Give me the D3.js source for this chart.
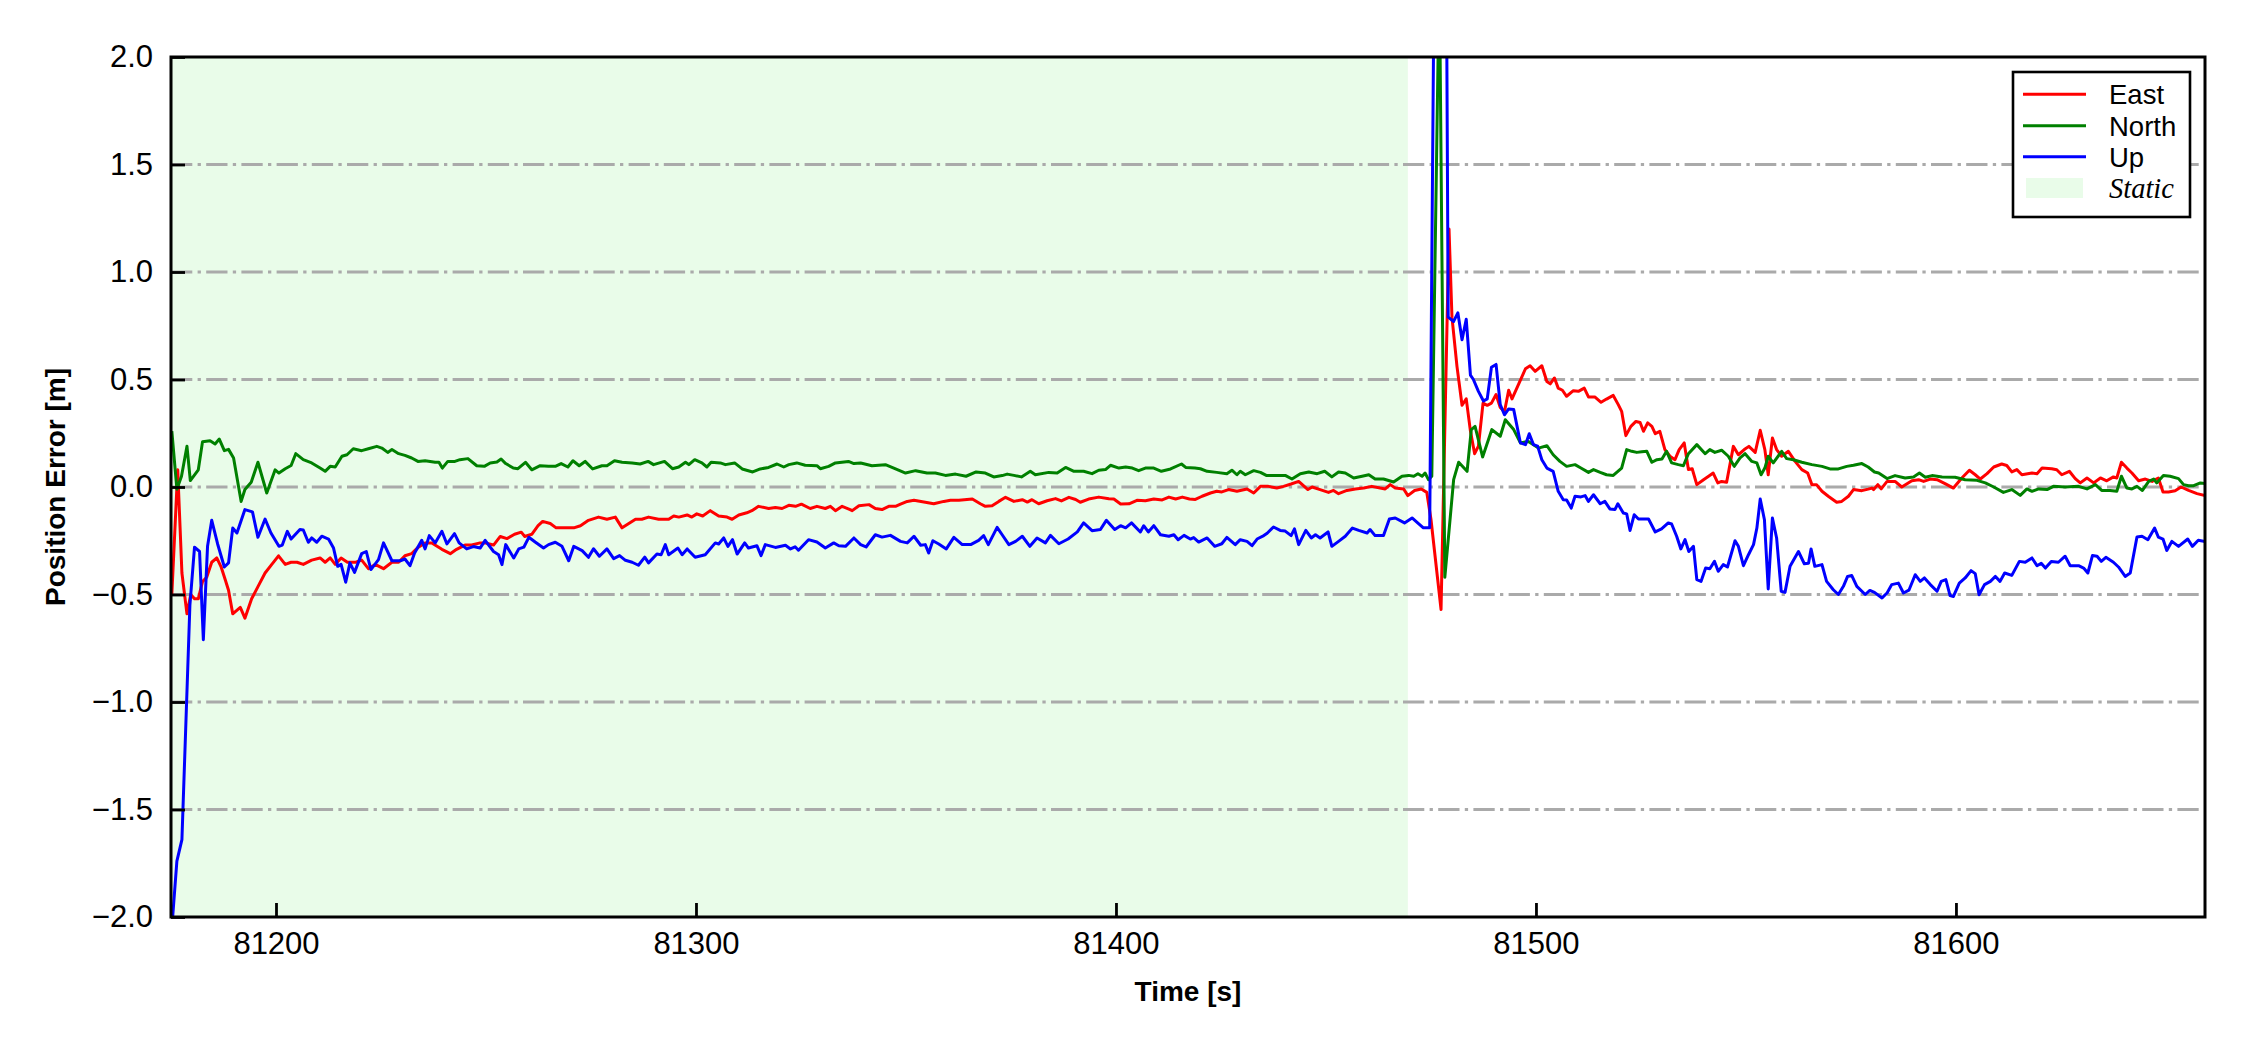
<!DOCTYPE html>
<html><head><meta charset="utf-8">
<script src="https://cdn.jsdelivr.net/npm/d3@7"></script>
<style>html,body{margin:0;padding:0;background:#fff;} svg{display:block;}</style>
</head><body><svg id="chart" width="2250" height="1050"></svg>
<script>
// ---------------- data ----------------
const seriesNames = ["East", "North", "Up"];
const seriesColors = ["#ff0000", "#008000", "#0000ff"];
const xTicks = [81200, 81300, 81400, 81500, 81600];
const yTicks = [-2.0, -1.5, -1.0, -0.5, 0.0, 0.5, 1.0, 1.5, 2.0];
const xDomain = [81175.0, 81659.3];
const yDomain = [-2, 2];
const staticSpan = [81175.0, 81469.5];
const staticLabel = "Static";
const xLabel = "Time [s]";
const yLabel = "Position Error [m]";

const east = [[81175.2,-0.50],[81176.6,0.08],[81177.6,-0.40],[81178.8,-0.59],[81179.7,-0.50],[81180.6,-0.52],[81181.5,-0.52],[81182.5,-0.44],[81183.5,-0.42],[81184.7,-0.35],[81185.9,-0.33],[81186.9,-0.37],[81187.9,-0.43],[81188.7,-0.48],[81189.7,-0.59],[81191.5,-0.56],[81192.6,-0.61],[81194.2,-0.52],[81195.8,-0.46],[81197.4,-0.40],[81199.0,-0.36],[81200.6,-0.32],[81202.2,-0.36],[81203.6,-0.35],[81205.0,-0.35],[81206.5,-0.36],[81208.5,-0.34],[81210.5,-0.33],[81211.7,-0.35],[81212.9,-0.33],[81214.1,-0.36],[81215.5,-0.33],[81217.0,-0.35],[81219.0,-0.35],[81220.4,-0.34],[81222.0,-0.38],[81223.6,-0.36],[81225.6,-0.38],[81227.6,-0.35],[81229.2,-0.35],[81230.7,-0.32],[81232.3,-0.31],[81233.9,-0.28],[81235.5,-0.26],[81237.1,-0.26],[81239.5,-0.29],[81241.5,-0.31],[81243.0,-0.29],[81245.0,-0.27],[81246.6,-0.27],[81248.6,-0.26],[81249.8,-0.26],[81251.8,-0.27],[81253.4,-0.23],[81255.0,-0.24],[81256.8,-0.22],[81258.4,-0.21],[81259.2,-0.23],[81260.9,-0.22],[81262.4,-0.18],[81263.5,-0.16],[81265.3,-0.17],[81266.7,-0.19],[81268.9,-0.19],[81270.9,-0.19],[81272.5,-0.18],[81274.4,-0.155],[81276.8,-0.14],[81278.8,-0.15],[81280.8,-0.14],[81282.4,-0.19],[81284.0,-0.17],[81285.6,-0.15],[81287.1,-0.15],[81288.7,-0.14],[81291.1,-0.15],[81293.5,-0.15],[81294.7,-0.135],[81295.9,-0.14],[81297.9,-0.13],[81299.0,-0.14],[81300.2,-0.125],[81301.6,-0.135],[81303.4,-0.11],[81305.4,-0.135],[81307.4,-0.14],[81308.6,-0.15],[81310.2,-0.13],[81312.1,-0.12],[81313.3,-0.11],[81314.9,-0.09],[81317.3,-0.10],[81318.9,-0.095],[81320.5,-0.10],[81322.1,-0.085],[81323.7,-0.09],[81325.1,-0.08],[81327.2,-0.10],[81328.8,-0.09],[81330.8,-0.10],[81332.0,-0.09],[81333.2,-0.11],[81334.8,-0.09],[81336.7,-0.105],[81337.2,-0.11],[81338.8,-0.087],[81341.2,-0.082],[81342.7,-0.10],[81344.3,-0.105],[81345.9,-0.09],[81347.5,-0.09],[81348.7,-0.08],[81350.3,-0.067],[81351.9,-0.062],[81354.6,-0.071],[81356.6,-0.078],[81359.0,-0.067],[81360.6,-0.062],[81362.6,-0.062],[81365.8,-0.056],[81367.7,-0.078],[81368.9,-0.09],[81370.5,-0.087],[81372.1,-0.067],[81373.7,-0.048],[81375.7,-0.067],[81377.7,-0.059],[81378.9,-0.07],[81380.0,-0.059],[81381.6,-0.078],[81383.6,-0.064],[81385.6,-0.054],[81387.0,-0.065],[81388.8,-0.048],[81390.4,-0.058],[81391.5,-0.071],[81393.5,-0.056],[81395.9,-0.047],[81398.3,-0.055],[81399.5,-0.056],[81401.1,-0.079],[81403.1,-0.078],[81405.0,-0.062],[81407.0,-0.064],[81409.0,-0.056],[81411.0,-0.06],[81412.6,-0.047],[81414.2,-0.056],[81415.8,-0.047],[81417.5,-0.056],[81418.9,-0.058],[81420.5,-0.043],[81422.5,-0.028],[81424.0,-0.02],[81425.2,-0.023],[81426.8,-0.012],[81428.8,-0.02],[81431.2,-0.009],[81432.8,-0.028],[81434.4,0.003],[81436.3,0.003],[81438.3,-0.005],[81439.9,0.003],[81441.7,0.014],[81443.5,0.026],[81445.7,-0.012],[81446.7,0.0],[81448.6,-0.012],[81450.6,-0.025],[81451.8,-0.016],[81453.0,-0.031],[81455.0,-0.016],[81457.0,-0.009],[81459.0,-0.005],[81460.9,0.003],[81462.9,-0.005],[81464.1,-0.009],[81465.3,0.011],[81466.5,-0.005],[81468.5,-0.009],[81469.5,-0.04],[81471.1,-0.016],[81472.7,-0.009],[81474.0,-0.025],[81475.0,-0.15],[81477.4,-0.57],[81479.3,1.20],[81480.0,0.79],[81481.2,0.56],[81482.4,0.38],[81483.4,0.41],[81484.4,0.26],[81485.4,0.155],[81486.3,0.19],[81487.4,0.39],[81488.4,0.38],[81489.4,0.39],[81490.5,0.43],[81491.5,0.37],[81492.5,0.35],[81493.5,0.45],[81494.3,0.41],[81495.9,0.48],[81497.5,0.55],[81498.6,0.564],[81499.8,0.538],[81501.4,0.564],[81502.6,0.491],[81503.4,0.48],[81504.4,0.507],[81505.3,0.46],[81506.3,0.45],[81507.3,0.422],[81508.9,0.448],[81510.1,0.445],[81511.5,0.46],[81512.5,0.419],[81514.0,0.419],[81515.5,0.394],[81516.8,0.409],[81518.4,0.426],[81519.6,0.383],[81520.4,0.352],[81521.4,0.239],[81522.6,0.282],[81523.8,0.305],[81524.8,0.30],[81525.6,0.259],[81526.6,0.298],[81527.6,0.282],[81528.4,0.248],[81529.5,0.259],[81530.7,0.174],[81531.9,0.143],[81533.1,0.127],[81534.1,0.174],[81535.3,0.205],[81536.3,0.081],[81537.2,0.085],[81538.3,0.011],[81539.9,0.034],[81541.1,0.05],[81542.2,0.065],[81543.3,0.019],[81544.2,0.026],[81545.4,0.022],[81547.0,0.189],[81548.2,0.15],[81549.6,0.174],[81550.7,0.189],[81552.2,0.161],[81553.4,0.264],[81554.5,0.174],[81555.3,0.057],[81556.3,0.228],[81557.3,0.174],[81558.5,0.143],[81560.1,0.166],[81561.7,0.119],[81563.3,0.081],[81564.7,0.065],[81565.7,0.011],[81566.8,0.011],[81568.1,-0.02],[81569.6,-0.043],[81571.6,-0.071],[81572.8,-0.067],[81574.4,-0.043],[81575.6,-0.012],[81577.6,-0.017],[81579.1,-0.01],[81580.0,-0.005],[81580.4,-0.012],[81581.4,0.011],[81582.2,-0.009],[81583.6,0.026],[81585.5,0.026],[81587.1,0.0],[81589.5,0.029],[81591.1,0.034],[81592.3,0.026],[81593.9,0.037],[81595.5,0.034],[81597.4,0.016],[81599.4,-0.005],[81601.4,0.042],[81603.2,0.078],[81604.6,0.057],[81605.8,0.037],[81607.4,0.062],[81609.0,0.093],[81610.9,0.107],[81612.1,0.10],[81613.3,0.07],[81614.5,0.081],[81615.7,0.057],[81618.1,0.065],[81619.3,0.062],[81620.5,0.088],[81622.8,0.085],[81624.0,0.08],[81625.2,0.057],[81627.0,0.073],[81628.4,0.039],[81629.6,0.019],[81631.2,0.042],[81632.8,0.019],[81634.4,0.042],[81635.9,0.029],[81637.5,0.047],[81638.3,0.042],[81639.4,0.115],[81640.7,0.088],[81641.9,0.065],[81643.5,0.029],[81645.1,0.037],[81646.7,0.026],[81648.2,0.042],[81649.3,-0.023],[81650.6,-0.023],[81652.2,-0.017],[81653.6,0.0],[81655.4,-0.016],[81657.4,-0.031],[81659.3,-0.04]];

const north = [[81175.2,0.26],[81176.4,-0.01],[81177.5,0.05],[81178.8,0.19],[81179.6,0.03],[81181.5,0.08],[81182.5,0.21],[81184.3,0.215],[81185.5,0.20],[81186.5,0.223],[81187.7,0.169],[81188.7,0.175],[81189.9,0.135],[81191.7,-0.067],[81192.6,-0.012],[81194.1,0.022],[81195.7,0.115],[81197.8,-0.028],[81199.8,0.08],[81200.7,0.065],[81202.2,0.085],[81203.6,0.10],[81204.7,0.155],[81206.5,0.127],[81208.5,0.112],[81210.5,0.088],[81211.7,0.073],[81212.9,0.096],[81214.1,0.093],[81215.7,0.143],[81216.9,0.15],[81218.4,0.178],[81220.4,0.169],[81222.0,0.178],[81224.0,0.189],[81225.2,0.181],[81226.6,0.161],[81227.6,0.174],[81229.2,0.155],[81230.7,0.147],[81232.3,0.135],[81233.8,0.119],[81235.5,0.122],[81237.9,0.115],[81238.8,0.115],[81239.6,0.088],[81240.9,0.119],[81242.6,0.119],[81243.8,0.127],[81245.7,0.132],[81247.8,0.099],[81249.6,0.096],[81251.0,0.112],[81252.6,0.116],[81253.6,0.13],[81254.7,0.109],[81256.5,0.088],[81257.6,0.085],[81259.4,0.115],[81260.9,0.08],[81262.9,0.099],[81264.9,0.096],[81266.5,0.096],[81267.9,0.109],[81269.5,0.093],[81270.7,0.122],[81272.2,0.099],[81273.6,0.119],[81275.4,0.084],[81277.6,0.099],[81278.8,0.099],[81280.6,0.122],[81282.4,0.115],[81284.8,0.112],[81286.7,0.107],[81288.6,0.119],[81289.9,0.104],[81292.5,0.119],[81294.4,0.085],[81295.9,0.093],[81297.5,0.115],[81298.3,0.104],[81299.7,0.127],[81301.4,0.112],[81302.6,0.093],[81303.6,0.115],[81305.8,0.112],[81307.0,0.104],[81309.2,0.112],[81311.0,0.084],[81313.5,0.07],[81315.3,0.084],[81317.3,0.091],[81319.3,0.107],[81320.9,0.093],[81322.1,0.104],[81324.0,0.112],[81326.0,0.101],[81328.8,0.099],[81329.6,0.085],[81331.6,0.096],[81333.2,0.112],[81336.3,0.119],[81337.6,0.109],[81339.2,0.112],[81341.9,0.099],[81345.1,0.104],[81347.1,0.088],[81349.9,0.065],[81352.3,0.076],[81355.0,0.065],[81357.0,0.065],[81359.4,0.054],[81361.8,0.06],[81364.3,0.05],[81366.7,0.07],[81368.9,0.065],[81370.9,0.047],[81372.9,0.053],[81374.1,0.06],[81375.7,0.054],[81377.5,0.047],[81379.6,0.073],[81380.8,0.057],[81384.0,0.068],[81386.0,0.065],[81388.0,0.091],[81390.0,0.073],[81392.3,0.073],[81394.3,0.062],[81395.9,0.078],[81397.5,0.081],[81398.7,0.101],[81400.7,0.088],[81402.3,0.093],[81403.9,0.088],[81405.4,0.076],[81407.0,0.088],[81409.0,0.088],[81410.8,0.073],[81413.0,0.084],[81415.6,0.107],[81416.6,0.091],[81418.8,0.088],[81420.1,0.085],[81421.7,0.073],[81424.0,0.068],[81426.4,0.062],[81427.6,0.078],[81428.8,0.057],[81429.6,0.073],[81430.8,0.057],[81432.8,0.076],[81434.4,0.068],[81435.9,0.053],[81437.9,0.053],[81440.3,0.054],[81441.9,0.037],[81443.9,0.062],[81445.9,0.07],[81447.9,0.062],[81449.7,0.073],[81451.4,0.047],[81453.0,0.07],[81454.6,0.065],[81456.6,0.042],[81458.6,0.05],[81460.2,0.057],[81461.7,0.037],[81463.7,0.037],[81466.1,0.023],[81468.1,0.05],[81469.7,0.054],[81470.9,0.05],[81471.9,0.062],[81472.9,0.05],[81473.6,0.065],[81474.4,0.034],[81475.2,0.05],[81477.0,2.4],[81478.3,-0.42],[81480.4,0.034],[81481.6,0.115],[81483.6,0.073],[81484.6,0.267],[81485.5,0.282],[81487.3,0.14],[81489.5,0.267],[81491.5,0.236],[81492.7,0.313],[81494.7,0.267],[81496.3,0.205],[81498.2,0.212],[81500.6,0.181],[81502.6,0.192],[81504.1,0.15],[81505.7,0.119],[81507.3,0.096],[81509.3,0.104],[81510.7,0.088],[81512.5,0.068],[81513.7,0.081],[81515.3,0.068],[81516.8,0.057],[81518.4,0.054],[81520.4,0.088],[81521.6,0.174],[81522.8,0.166],[81524.0,0.161],[81525.2,0.164],[81526.4,0.166],[81527.6,0.115],[81528.8,0.127],[81530.0,0.13],[81531.1,0.166],[81532.3,0.112],[81533.9,0.104],[81535.1,0.099],[81536.3,0.155],[81538.3,0.197],[81540.3,0.155],[81541.4,0.174],[81542.6,0.161],[81544.2,0.171],[81545.8,0.143],[81547.2,0.096],[81548.6,0.135],[81549.8,0.155],[81551.4,0.119],[81552.6,0.112],[81553.6,0.057],[81554.5,0.088],[81555.3,0.143],[81556.5,0.112],[81558.5,0.166],[81559.7,0.132],[81561.3,0.127],[81563.3,0.115],[81565.7,0.104],[81568.1,0.096],[81570.0,0.084],[81572.0,0.084],[81574.0,0.096],[81575.6,0.101],[81577.6,0.109],[81579.1,0.093],[81580.6,0.07],[81581.6,0.065],[81583.6,0.039],[81585.5,0.053],[81587.9,0.042],[81589.9,0.047],[81591.3,0.065],[81592.7,0.045],[81594.3,0.053],[81596.7,0.047],[81599.8,0.045],[81602.2,0.034],[81605.0,0.031],[81607.0,0.019],[81609.0,0.0],[81611.3,-0.025],[81613.3,-0.012],[81615.3,-0.039],[81616.9,-0.009],[81618.1,-0.02],[81619.7,-0.009],[81621.7,-0.012],[81623.2,0.003],[81626.0,0.0],[81629.2,0.003],[81631.2,-0.009],[81633.2,0.011],[81634.7,-0.016],[81636.7,-0.016],[81638.3,-0.02],[81639.4,0.05],[81640.7,-0.005],[81641.9,-0.009],[81643.1,0.003],[81644.4,-0.016],[81645.9,0.026],[81647.1,0.037],[81647.8,0.019],[81649.4,0.054],[81651.0,0.05],[81653.0,0.039],[81654.2,0.011],[81655.4,0.006],[81656.6,0.006],[81658.2,0.019],[81659.3,0.016]];

const up = [[81175.2,-2.05],[81176.4,-1.74],[81177.6,-1.64],[81179.5,-0.55],[81180.6,-0.28],[81181.8,-0.30],[81182.7,-0.71],[81183.7,-0.276],[81184.7,-0.155],[81186.1,-0.265],[81187.7,-0.372],[81188.7,-0.353],[81189.7,-0.191],[81190.7,-0.214],[81192.6,-0.105],[81194.4,-0.116],[81195.7,-0.234],[81197.4,-0.149],[81198.8,-0.214],[81200.7,-0.276],[81201.5,-0.27],[81202.7,-0.206],[81203.6,-0.242],[81205.7,-0.198],[81206.5,-0.20],[81207.7,-0.257],[81208.5,-0.237],[81209.7,-0.257],[81210.9,-0.229],[81212.5,-0.242],[81213.7,-0.284],[81214.7,-0.369],[81215.5,-0.36],[81216.6,-0.443],[81217.6,-0.353],[81218.7,-0.397],[81220.4,-0.31],[81221.5,-0.30],[81222.6,-0.384],[81224.4,-0.338],[81225.6,-0.26],[81227.6,-0.343],[81229.6,-0.343],[81230.7,-0.335],[81231.9,-0.366],[81233.0,-0.307],[81234.7,-0.248],[81235.5,-0.288],[81236.5,-0.226],[81237.9,-0.26],[81239.5,-0.206],[81240.7,-0.265],[81242.5,-0.217],[81243.6,-0.26],[81245.4,-0.288],[81247.0,-0.277],[81248.6,-0.284],[81249.8,-0.248],[81251.8,-0.30],[81253.0,-0.315],[81253.8,-0.361],[81254.7,-0.268],[81256.6,-0.33],[81257.8,-0.288],[81259.0,-0.28],[81260.2,-0.234],[81261.7,-0.256],[81263.7,-0.284],[81264.9,-0.268],[81266.5,-0.257],[81268.1,-0.276],[81269.7,-0.343],[81270.9,-0.276],[81272.9,-0.296],[81274.4,-0.327],[81275.6,-0.287],[81277.0,-0.322],[81278.8,-0.288],[81280.4,-0.333],[81281.8,-0.319],[81283.2,-0.341],[81284.8,-0.35],[81286.3,-0.364],[81287.8,-0.326],[81288.7,-0.353],[81290.7,-0.312],[81291.7,-0.315],[81292.7,-0.268],[81293.5,-0.315],[81295.7,-0.284],[81296.7,-0.315],[81297.9,-0.288],[81299.8,-0.327],[81302.2,-0.315],[81304.6,-0.26],[81305.4,-0.265],[81306.6,-0.237],[81307.6,-0.276],[81308.7,-0.245],[81309.8,-0.312],[81311.6,-0.26],[81312.5,-0.284],[81314.5,-0.273],[81315.5,-0.319],[81316.5,-0.268],[81318.9,-0.281],[81321.3,-0.271],[81322.5,-0.288],[81323.6,-0.278],[81324.4,-0.294],[81326.8,-0.245],[81328.8,-0.256],[81330.8,-0.284],[81332.8,-0.26],[81334.0,-0.273],[81335.6,-0.276],[81337.6,-0.237],[81339.2,-0.268],[81340.5,-0.279],[81342.7,-0.222],[81344.3,-0.233],[81346.3,-0.225],[81348.7,-0.253],[81350.3,-0.26],[81351.9,-0.229],[81353.5,-0.271],[81354.6,-0.268],[81355.4,-0.307],[81356.4,-0.25],[81357.8,-0.265],[81359.6,-0.288],[81361.4,-0.234],[81363.4,-0.268],[81365.4,-0.268],[81367.3,-0.248],[81368.5,-0.226],[81369.6,-0.268],[81371.7,-0.188],[81372.9,-0.222],[81374.5,-0.268],[81376.1,-0.253],[81377.7,-0.229],[81379.5,-0.276],[81381.2,-0.237],[81383.2,-0.26],[81384.4,-0.225],[81386.4,-0.264],[81388.6,-0.242],[81390.8,-0.209],[81392.3,-0.167],[81394.3,-0.203],[81396.3,-0.198],[81397.7,-0.155],[81399.7,-0.198],[81401.1,-0.18],[81402.3,-0.19],[81403.7,-0.167],[81405.8,-0.209],[81406.6,-0.18],[81407.7,-0.209],[81409.0,-0.18],[81410.6,-0.222],[81412.6,-0.229],[81413.8,-0.222],[81414.8,-0.245],[81416.2,-0.225],[81417.7,-0.242],[81418.5,-0.235],[81419.7,-0.256],[81421.7,-0.237],[81423.5,-0.276],[81425.2,-0.264],[81426.4,-0.234],[81428.4,-0.268],[81429.6,-0.245],[81431.2,-0.253],[81432.4,-0.273],[81433.6,-0.242],[81435.2,-0.226],[81436.0,-0.215],[81437.5,-0.186],[81439.1,-0.202],[81440.3,-0.205],[81441.7,-0.226],[81442.5,-0.195],[81443.5,-0.268],[81445.2,-0.202],[81446.5,-0.237],[81447.5,-0.222],[81448.6,-0.237],[81450.5,-0.209],[81451.4,-0.276],[81453.0,-0.253],[81454.6,-0.229],[81456.3,-0.191],[81457.8,-0.202],[81459.8,-0.214],[81460.5,-0.198],[81461.7,-0.226],[81463.7,-0.226],[81465.1,-0.149],[81466.5,-0.144],[81468.7,-0.167],[81470.5,-0.144],[81472.1,-0.171],[81473.2,-0.19],[81474.7,-0.19],[81476.0,3.0],[81477.0,4.0],[81478.0,5.0],[81479.1,0.79],[81480.4,0.77],[81481.4,0.81],[81482.4,0.685],[81483.4,0.78],[81484.4,0.52],[81485.1,0.50],[81486.3,0.445],[81487.5,0.40],[81488.4,0.41],[81489.4,0.557],[81490.5,0.57],[81491.5,0.383],[81492.5,0.336],[81493.5,0.363],[81494.7,0.36],[81496.3,0.205],[81497.5,0.197],[81498.4,0.248],[81499.4,0.197],[81500.4,0.19],[81501.4,0.127],[81502.6,0.088],[81504.1,0.073],[81505.3,-0.02],[81506.5,-0.059],[81507.3,-0.06],[81508.4,-0.098],[81509.3,-0.043],[81510.7,-0.046],[81511.7,-0.04],[81512.5,-0.067],[81513.7,-0.036],[81515.3,-0.078],[81516.4,-0.067],[81517.6,-0.102],[81518.8,-0.105],[81519.5,-0.078],[81520.8,-0.121],[81521.6,-0.125],[81522.4,-0.202],[81523.4,-0.129],[81524.4,-0.149],[81526.8,-0.149],[81528.4,-0.209],[81529.9,-0.195],[81531.5,-0.167],[81532.3,-0.172],[81533.5,-0.229],[81534.5,-0.288],[81535.5,-0.245],[81536.4,-0.30],[81537.5,-0.276],[81538.3,-0.431],[81539.3,-0.439],[81540.4,-0.377],[81541.4,-0.38],[81542.5,-0.346],[81543.4,-0.392],[81544.6,-0.361],[81545.6,-0.372],[81547.4,-0.25],[81548.2,-0.276],[81549.4,-0.366],[81550.6,-0.315],[81551.8,-0.268],[81552.6,-0.191],[81553.4,-0.056],[81554.4,-0.152],[81555.3,-0.474],[81556.3,-0.144],[81557.3,-0.237],[81558.4,-0.485],[81559.3,-0.49],[81560.5,-0.369],[81562.5,-0.30],[81563.9,-0.357],[81564.9,-0.355],[81565.5,-0.288],[81566.4,-0.369],[81568.1,-0.361],[81569.2,-0.439],[81570.8,-0.478],[81572.0,-0.50],[81573.2,-0.462],[81574.2,-0.416],[81575.2,-0.412],[81576.4,-0.462],[81578.4,-0.50],[81579.5,-0.481],[81580.6,-0.49],[81582.4,-0.516],[81583.6,-0.493],[81584.7,-0.454],[81586.3,-0.447],[81587.5,-0.493],[81588.8,-0.48],[81590.3,-0.408],[81591.5,-0.439],[81592.5,-0.423],[81593.9,-0.454],[81595.5,-0.485],[81596.5,-0.439],[81597.6,-0.431],[81598.6,-0.505],[81599.4,-0.509],[81600.8,-0.447],[81602.2,-0.423],[81603.6,-0.389],[81604.6,-0.403],[81605.5,-0.501],[81606.8,-0.454],[81608.2,-0.439],[81609.4,-0.416],[81610.5,-0.439],[81611.6,-0.40],[81613.3,-0.411],[81615.1,-0.346],[81616.5,-0.35],[81618.1,-0.33],[81619.3,-0.366],[81620.3,-0.355],[81621.3,-0.377],[81622.7,-0.346],[81624.4,-0.35],[81626.0,-0.322],[81627.2,-0.366],[81629.2,-0.366],[81630.4,-0.377],[81631.4,-0.40],[81632.5,-0.319],[81633.6,-0.322],[81634.6,-0.346],[81635.7,-0.327],[81637.5,-0.35],[81638.7,-0.372],[81640.3,-0.416],[81641.5,-0.40],[81643.1,-0.233],[81644.3,-0.229],[81645.7,-0.245],[81647.3,-0.191],[81648.2,-0.233],[81649.3,-0.242],[81650.2,-0.295],[81651.4,-0.253],[81653.0,-0.276],[81655.2,-0.242],[81656.3,-0.276],[81657.7,-0.248],[81659.3,-0.253]];

const seriesData = [east, north, up];

// ---------------- drawing ----------------
const W = 2250, H = 1050;
const plot = {left: 171, right: 2205, top: 57, bottom: 917};
const FONT = "'Liberation Sans', Arial, Helvetica, sans-serif";
const svg = d3.select("#chart");
svg.append("rect").attr("width", W).attr("height", H).attr("fill", "#ffffff");

const x = d3.scaleLinear().domain(xDomain).range([plot.left, plot.right]);
const y = d3.scaleLinear().domain(yDomain).range([plot.bottom, plot.top]);

svg.append("defs").append("clipPath").attr("id", "plotclip")
  .append("rect").attr("x", plot.left).attr("y", plot.top)
  .attr("width", plot.right - plot.left).attr("height", plot.bottom - plot.top);

// static background
svg.append("rect")
  .attr("x", x(staticSpan[0])).attr("y", plot.top)
  .attr("width", x(staticSpan[1]) - x(staticSpan[0]))
  .attr("height", plot.bottom - plot.top)
  .attr("fill", "#e9fce9");

// grid lines
svg.append("g").selectAll("line")
  .data(yTicks.filter(v => v > yDomain[0] && v < yDomain[1]))
  .join("line")
  .attr("x1", plot.left).attr("x2", plot.right)
  .attr("y1", d => y(d)).attr("y2", d => y(d))
  .attr("stroke", "#aaaaaa").attr("stroke-width", 3)
  .attr("stroke-dasharray", "21.3,5.3,3.3,5.3");

// lines
const lineGen = d3.line().x(d => x(d[0])).y(d => y(d[1]));
const gLines = svg.append("g").attr("clip-path", "url(#plotclip)");
seriesData.forEach((s, i) => {
  gLines.append("path").datum(s)
    .attr("d", lineGen)
    .attr("fill", "none")
    .attr("stroke", seriesColors[i])
    .attr("stroke-width", 3)
    .attr("stroke-linejoin", "round")
    .attr("stroke-linecap", "butt");
});

// axes
const fmtY = d3.format(".1f");
const xAxis = d3.axisBottom(x).tickValues(xTicks).tickFormat(d3.format("d"))
  .tickSize(-14).tickPadding(15);
const yAxis = d3.axisLeft(y).tickValues(yTicks).tickFormat(fmtY)
  .tickSize(-14).tickPadding(18);

const gx = svg.append("g").attr("transform", `translate(0,${plot.bottom})`).call(xAxis);
const gy = svg.append("g").attr("transform", `translate(${plot.left},0)`).call(yAxis);
[gx, gy].forEach(g => {
  g.select(".domain").remove();
  g.selectAll(".tick line").attr("stroke", "#000").attr("stroke-width", 2.8);
  g.selectAll(".tick text").attr("fill", "#000")
    .style("font-family", FONT).style("font-size", "31px");
});

// spines
svg.append("rect")
  .attr("x", plot.left).attr("y", plot.top)
  .attr("width", plot.right - plot.left).attr("height", plot.bottom - plot.top)
  .attr("fill", "none").attr("stroke", "#000").attr("stroke-width", 3);

// axis labels
svg.append("text")
  .attr("x", (plot.left + plot.right) / 2).attr("y", 1001)
  .attr("text-anchor", "middle")
  .style("font-family", FONT).style("font-size", "28px").style("font-weight", "bold")
  .text(xLabel);
svg.append("text")
  .attr("transform", `translate(65,${(plot.top + plot.bottom) / 2}) rotate(-90)`)
  .attr("text-anchor", "middle")
  .style("font-family", FONT).style("font-size", "28px").style("font-weight", "bold")
  .text(yLabel);

// legend
const lg = svg.append("g");
lg.append("rect").attr("x", 2013).attr("y", 72).attr("width", 177).attr("height", 145)
  .attr("fill", "#ffffff").attr("stroke", "#000").attr("stroke-width", 2.6);
const rowY = [94.3, 125.7, 156.7, 188];
seriesNames.forEach((n, i) => {
  lg.append("line").attr("x1", 2023).attr("x2", 2086)
    .attr("y1", rowY[i]).attr("y2", rowY[i])
    .attr("stroke", seriesColors[i]).attr("stroke-width", 3);
  lg.append("text").attr("x", 2109).attr("y", rowY[i]).attr("dy", "0.36em")
    .style("font-family", FONT).style("font-size", "27.5px").text(n);
});
lg.append("rect").attr("x", 2026).attr("y", 178).attr("width", 57).attr("height", 20)
  .attr("fill", "#e9fce9");
lg.append("text").attr("x", 2109).attr("y", rowY[3]).attr("dy", "0.36em")
  .style("font-family", "'Liberation Serif', 'Times New Roman', serif")
  .style("font-style", "italic").style("font-size", "28.5px").text(staticLabel);
</script>
</body></html>
